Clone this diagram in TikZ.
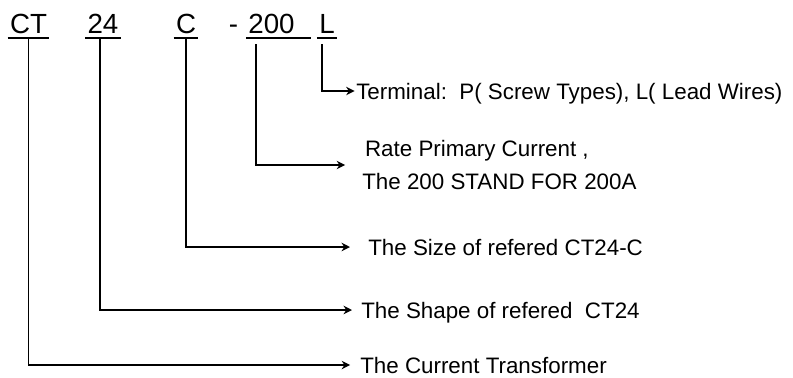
\documentclass[tikz,border=0pt]{standalone}
\usepackage{fontspec}
\setmainfont{Liberation Sans}
\usetikzlibrary{arrows.meta,positioning}

\begin{document}
\begin{tikzpicture}[
  x=0.025cm, y=-0.025cm,
  code/.style={
    anchor=base, inner xsep=1.5pt,
    inner ysep=3.5pt, text depth=0pt,
    font=\fontsize{19.7}{22}\selectfont
  },
  desc/.style={
    anchor=west, inner sep=0pt,
    text height=11.4pt, text depth=0pt,
    font=\fontsize{15.9}{20}\selectfont
  },
  uline/.style={line width=1.4pt},
  drop/.style={
    line width=1.3pt,
    -{Stealth[length=6pt,width=6pt]}
  }
]
\useasboundingbox (0,0) rectangle (793,377);

\node[code] (hCT)  at (28.5,33)  {CT};
\node[code] (h24)  at (103,33)   {24};
\node[code] (hC)   at (186,33)   {C};
\node[code] (hdash) at (233.5,33) {-};
\node[code] (h200) at (271.5,33) {200};
\node[code] (hL)   at (327,33)   {L};

\foreach \h in {hCT,h24,hC,hL}{
  \draw[uline] (\h.south west) -- (\h.south east);
}
\draw[uline] (h200.south west)
  -- ([xshift=10pt]h200.south east);

\node[desc] (tL) at (356,91)
  {Terminal:\ \ P( Screw Types), L( Lead Wires)};
\node[desc, align=left, text height=,
  text depth=] (t200) at (362,165)
  {\hspace{2pt}Rate Primary Current ,\\[3pt]The 200 STAND FOR 200A};
\node[desc] (tC)  at (368,247)
  {The Size of refered CT24-C};
\node[desc] (t24) at (361,310)
  {The Shape of refered\ \ CT24};
\node[desc] (tCT) at (360,365)
  {The Current Transformer};

\draw[drop, shorten <=4.3pt, shorten >=1pt]
  ([xshift=-3.5pt]hL.south) |- (tL.west);
\draw[drop, shorten <=4.3pt, shorten >=12pt]
  ([xshift=7pt]h200.south west) |- (t200.west);
\draw[drop, shorten >=12.8pt]
  (hC.south) |- (tC.west);
\draw[drop, shorten >=6.4pt]
  ([xshift=-2.1pt]h24.south) |- (t24.west);
\draw[drop, shorten >=7pt]
  (hCT.south) |- (tCT.west);
\end{tikzpicture}
\end{document}
